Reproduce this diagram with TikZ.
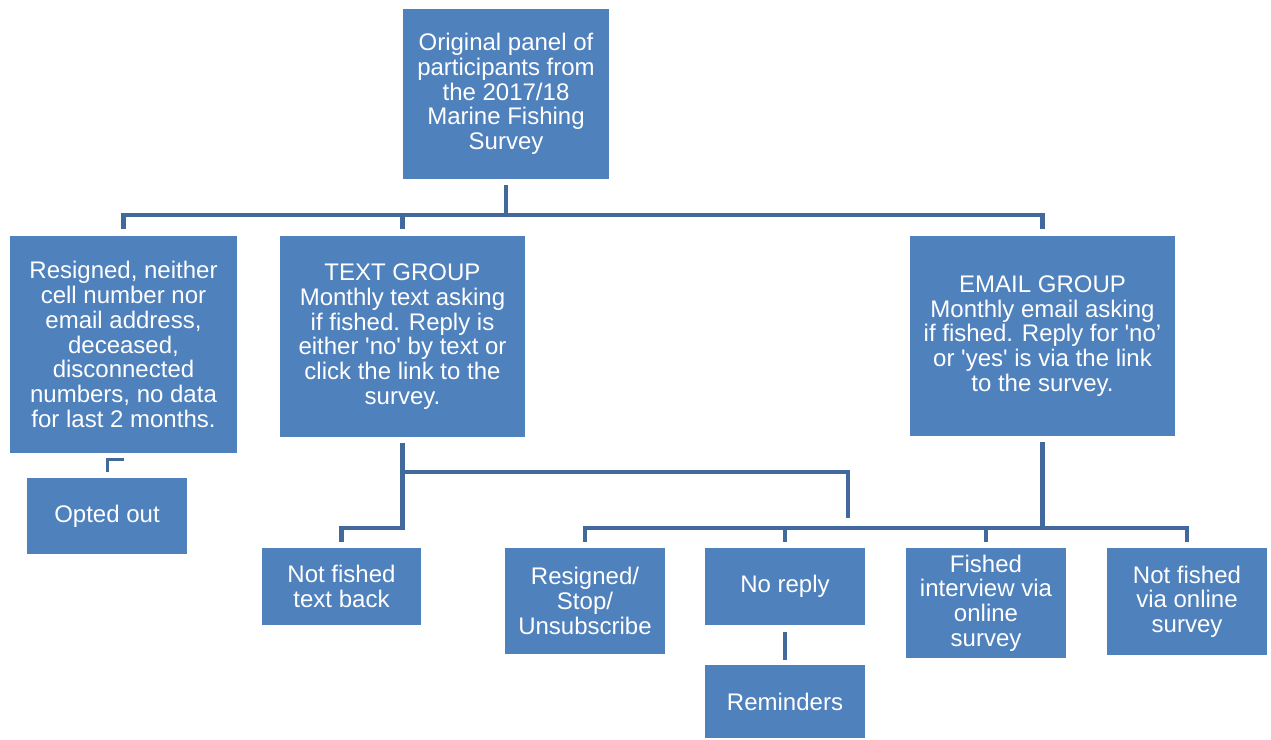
\documentclass[tikz,border=0pt]{standalone}
\usepackage{fontspec}
\setmainfont{Liberation Sans}
\definecolor{boxblue}{HTML}{4F81BD}
\definecolor{linkblue}{HTML}{41699B}

\begin{document}
\begin{tikzpicture}[x=1pt,y=-1pt,
    box/.style={fill=boxblue,text=white,inner sep=0pt,align=center,
      font=\fontsize{24}{24.7}\selectfont},
    link/.style={draw=linkblue,line width=4.5pt},
    thinlink/.style={draw=linkblue,line width=3pt}]
  \useasboundingbox (0,0) rectangle (1271,739);

  % panel and the three groups
  \node[box,minimum width=206,minimum height=170] (top) at (506,94)
    {Original panel of\\participants from\\the 2017/18\\Marine Fishing\\Survey};
  \node[box,minimum width=227,minimum height=217] (resigned) at (123.5,344.5)
    {Resigned, neither\\cell number nor\\email address,\\deceased,\\disconnected\\numbers, no data\\for last 2 months.};
  \node[box,minimum width=245,minimum height=201] (textgrp) at (402.5,336.5)
    {TEXT GROUP\\Monthly text asking\\if fished. Reply is\\either \textquotesingle no\textquotesingle{} by text or\\click the link to the\\survey.};
  \node[box,minimum width=265,minimum height=200] (email) at (1042.5,336)
    {EMAIL GROUP\\Monthly email asking\\if fished. Reply for \textquotesingle no’\\or \textquotesingle yes\textquotesingle{} is via the link\\to the survey.};

  % outcomes
  \node[box,minimum width=160,minimum height=76] (opted) at (107,516)
    {Opted out};
  \node[box,minimum width=159,minimum height=77] (notfishedtext) at (341.5,586.5)
    {Not fished\\text back};
  \node[box,minimum width=160,minimum height=106] (resignedstop) at (585,601)
    {Resigned/\\Stop/\\Unsubscribe};
  \node[box,minimum width=160,minimum height=77] (noreply) at (785,586.5)
    {No reply};
  \node[box,minimum width=160,minimum height=110] (fished) at (986,603)
    {Fished\\interview via\\online\\survey};
  \node[box,minimum width=160,minimum height=107] (notfishedonline) at (1187,601.5)
    {Not fished\\via online\\survey};
  \node[box,minimum width=160,minimum height=73] (reminders) at (785,701.5)
    {Reminders};

  % top tree
  \coordinate (busTop) at (506,215);
  \draw[link] ([yshift=-6pt]top.south) -- (busTop);
  \draw[link] ([yshift=7pt]resigned.north) -- (resigned.north |- busTop)
    -- (email.north |- busTop) -- ([yshift=7pt]email.north);
  \draw[link] ([yshift=7pt]textgrp.north) -- (textgrp.north |- busTop);

  \draw[thinlink] ([yshift=-6pt]resigned.south) -| ([yshift=6pt]opted.north);

  % text group branches
  \coordinate (textJoin) at (402.5,472);
  \coordinate (textLow) at (402.5,528);
  \coordinate (dangle) at (848,518);
  \draw[link] ([yshift=-6pt]textgrp.south) -- (textLow)
    -| ([yshift=6pt]notfishedtext.north);
  \draw[link] (textJoin) -| (dangle);

  % email group branches
  \coordinate (emailBus) at (1042.5,528);
  \draw[link] ([yshift=-6pt]email.south) -- (emailBus);
  \draw[link] ([yshift=6pt]resignedstop.north) -- (resignedstop.north |- emailBus)
    -- (notfishedonline.north |- emailBus) -- ([yshift=6pt]notfishedonline.north);
  \draw[link] ([yshift=6pt]noreply.north) -- (noreply.north |- emailBus);
  \draw[link] ([yshift=6pt]fished.north) -- (fished.north |- emailBus);
  \draw[link] ([yshift=-7pt]noreply.south) -- ([yshift=5pt]reminders.north);
\end{tikzpicture}
\end{document}
